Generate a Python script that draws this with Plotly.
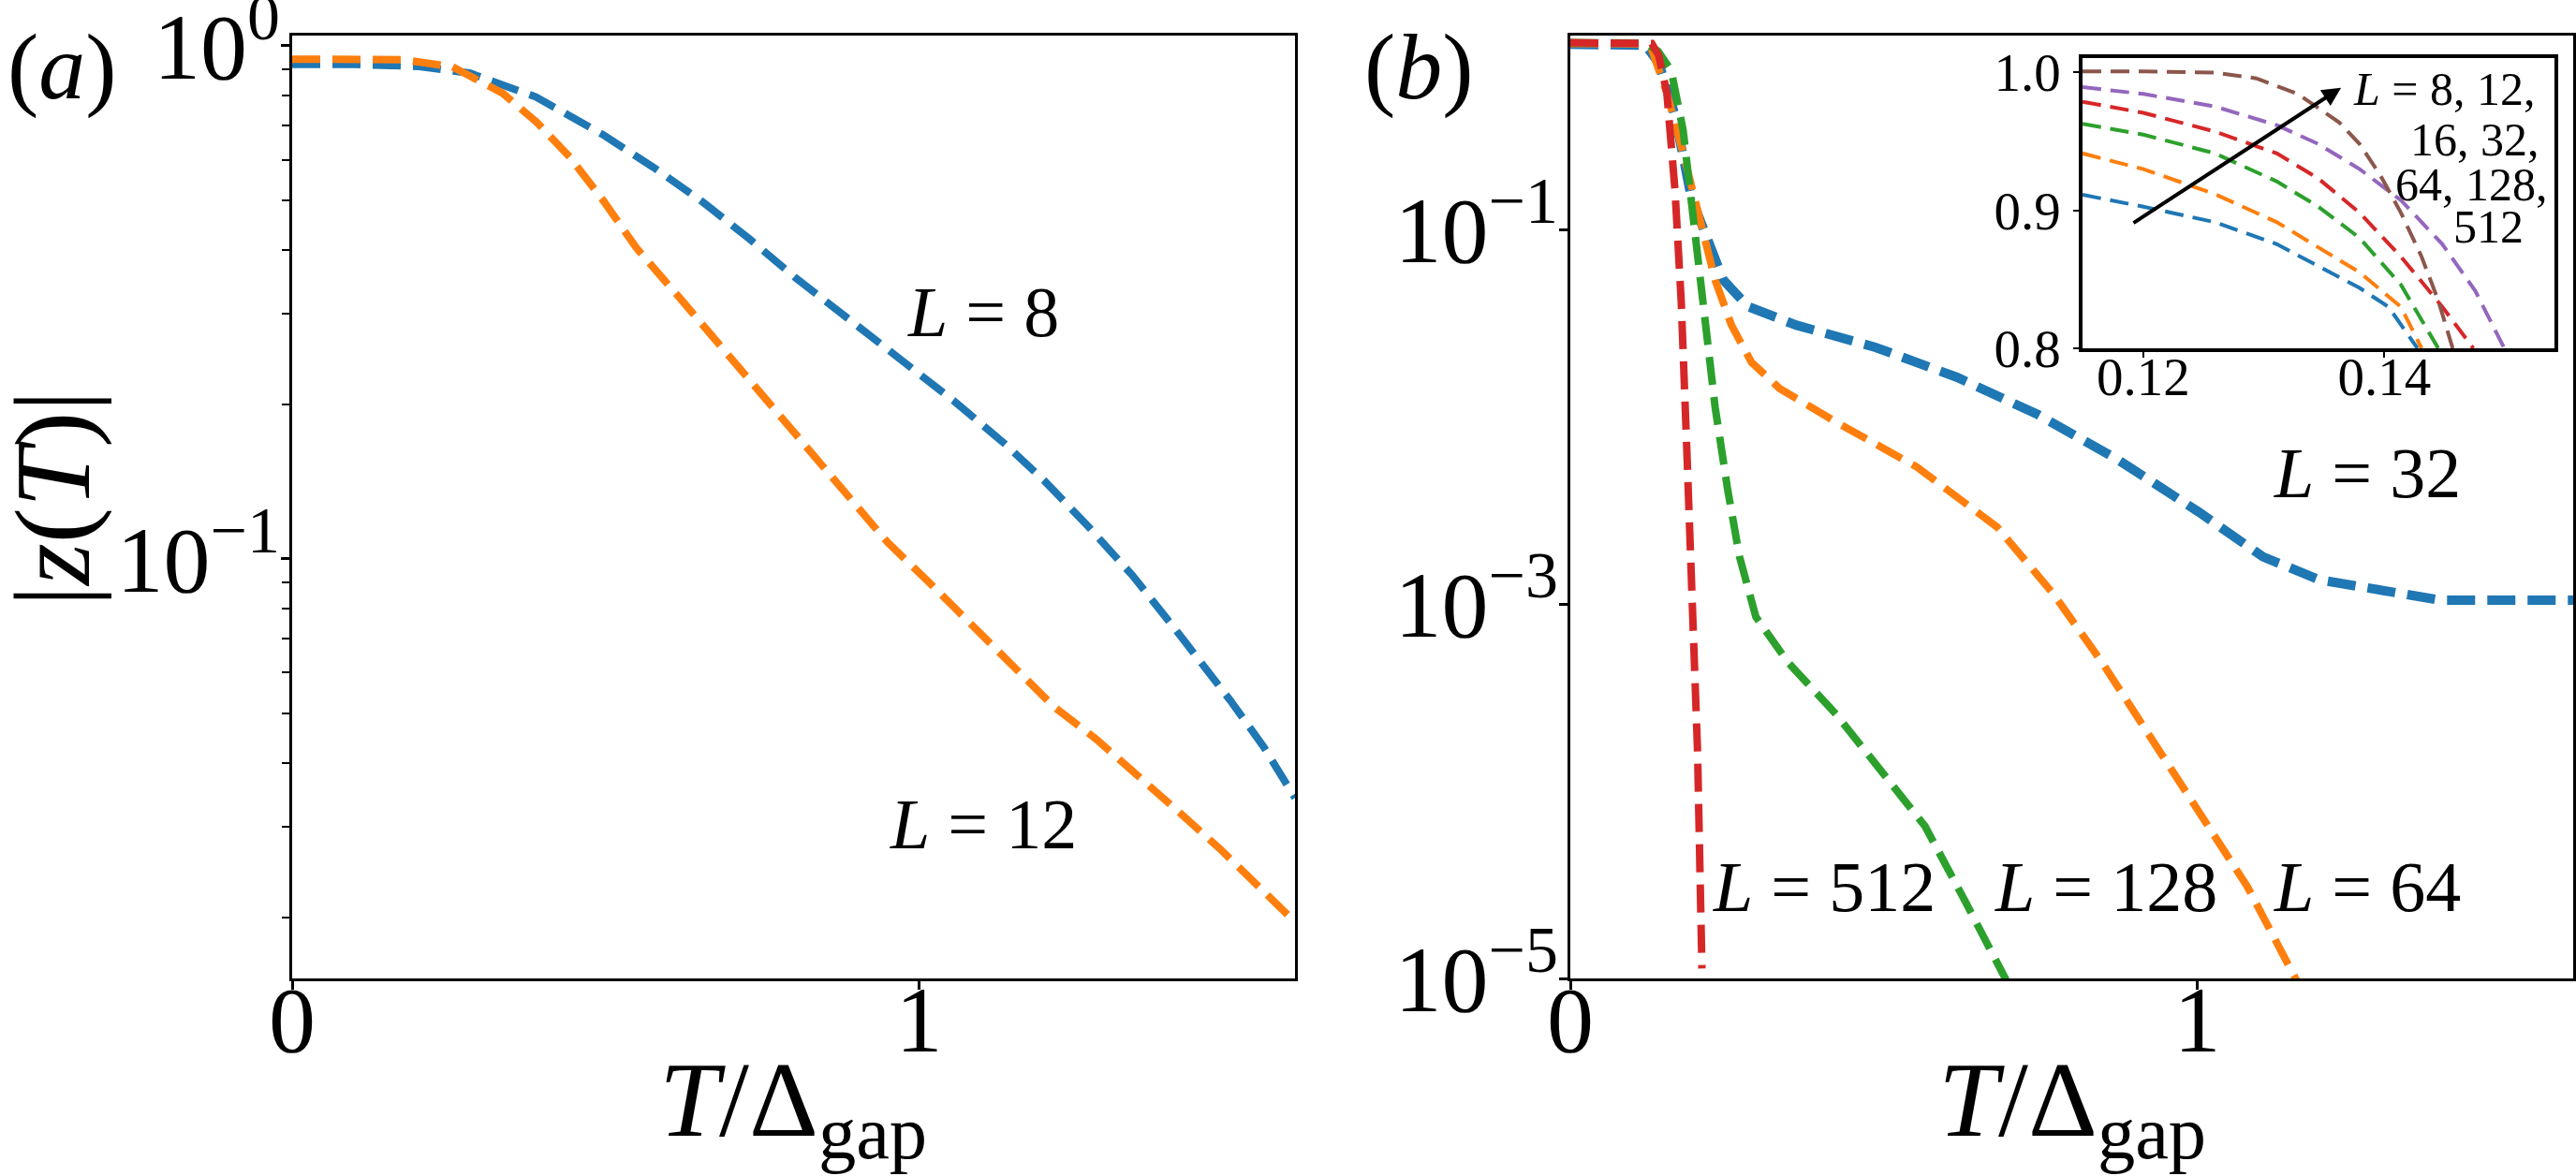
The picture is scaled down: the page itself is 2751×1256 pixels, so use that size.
import plotly.graph_objects as go

W, H = 2751, 1256
FONT = "Liberation Serif"

C_BLUE, C_ORANGE, C_GREEN, C_RED, C_PURPLE, C_BROWN = (
    "#1f77b4", "#ff7f0e", "#2ca02c", "#d62728", "#9467bd", "#8c564b")

# ---------------- panel (a) data ----------------
a_T_L8 = [0, 0.1, 0.2, 0.283, 0.389, 0.496, 0.576, 0.656, 0.73, 0.803, 0.89, 0.976,
          1.056, 1.136, 1.2, 1.269, 1.34, 1.403, 1.45, 1.496, 1.55, 1.6]
a_z_L8 = [0.92, 0.92, 0.912, 0.885, 0.795, 0.671, 0.58, 0.495, 0.42, 0.353, 0.292, 0.243,
          0.203, 0.168, 0.142, 0.116, 0.093, 0.0745, 0.063, 0.0531, 0.043, 0.0342]
a_T_L12 = [0, 0.1, 0.176, 0.256, 0.336, 0.39, 0.443, 0.496, 0.549, 0.616, 0.683, 0.75,
           0.816, 0.883, 0.949, 1.016, 1.083, 1.15, 1.216, 1.283, 1.349, 1.416, 1.483, 1.54, 1.6]
a_z_L12 = [0.942, 0.942, 0.94, 0.91, 0.808, 0.71, 0.607, 0.5, 0.404, 0.325, 0.26, 0.208,
           0.168, 0.134, 0.108, 0.09, 0.0745, 0.062, 0.0514, 0.0445, 0.0379, 0.032, 0.027, 0.023, 0.0196]

# ---------------- panel (b) data ----------------
b_T_L32 = [0, 0.10, 0.12, 0.141, 0.167, 0.193, 0.219, 0.244, 0.283, 0.36, 0.488, 0.617,
           0.746, 0.874, 1.003, 1.105, 1.195, 1.26, 1.388, 1.6]
b_z_L32 = [0.98, 0.978, 0.97, 0.78, 0.409, 0.149, 0.0855, 0.054, 0.039, 0.031, 0.0235, 0.0163,
           0.0103, 0.0059, 0.0031, 0.00179, 0.00135, 0.00124, 0.00105, 0.00105]
b_T_L64 = [0, 0.11, 0.129, 0.154, 0.18, 0.206, 0.231, 0.257, 0.289, 0.334, 0.424, 0.553,
           0.681, 0.771, 0.848, 0.925, 1.003, 1.08, 1.157, 1.17]
b_z_L64 = [0.99, 0.988, 0.938, 0.54, 0.258, 0.113, 0.054, 0.031, 0.0196, 0.0142, 0.0094, 0.0054,
           0.00258, 0.00113, 4.9e-4, 1.96e-4, 7.8e-5, 3.1e-5, 1.0e-5, 8.5e-6]
b_T_L128 = [0, 0.12, 0.14, 0.161, 0.18, 0.193, 0.212, 0.231, 0.251, 0.27, 0.296, 0.347,
            0.424, 0.501, 0.566, 0.63, 0.694, 0.70]
b_z_L128 = [1.0, 0.995, 0.9, 0.71, 0.34, 0.149, 0.041, 0.0113, 0.0041, 0.00179, 8.55e-4, 4.9e-4,
            2.58e-4, 1.24e-4, 6.5e-5, 2.58e-5, 1.0e-5, 8.5e-6]
b_T_L512 = [0, 0.12, 0.13, 0.141, 0.154, 0.167, 0.177, 0.186, 0.195, 0.203, 0.21]
b_z_L512 = [1.0, 1.0, 0.99, 0.855, 0.54, 0.163, 0.041, 6.5e-3, 1.03e-3, 1.63e-4, 1.13e-5]

# ---------------- inset data ----------------
i_T = {
    8:   [0.11496, 0.12, 0.12594, 0.13108, 0.13451, 0.13794, 0.14034, 0.14274],
    12:  [0.11496, 0.12, 0.12594, 0.13108, 0.13451, 0.13794, 0.14137, 0.14308],
    16:  [0.11496, 0.12, 0.12594, 0.13108, 0.13451, 0.13794, 0.14137, 0.14446],
    32:  [0.11496, 0.12, 0.12594, 0.13108, 0.13451, 0.13794, 0.14137, 0.14480, 0.14737],
    64:  [0.11496, 0.12, 0.12594, 0.13108, 0.13451, 0.13794, 0.14137, 0.14480, 0.14754, 0.14994],
    128: [0.11496, 0.12, 0.12594, 0.12937, 0.13280, 0.13623, 0.13794, 0.13966, 0.14137,
          0.14308, 0.14446, 0.14566],
}
i_z = {
    8:   [0.9113, 0.9027, 0.8914, 0.8755, 0.8596, 0.8438, 0.830, 0.80],
    12:  [0.9413, 0.9299, 0.9118, 0.8914, 0.8732, 0.8551, 0.830, 0.80],
    16:  [0.9628, 0.9549, 0.9413, 0.9209, 0.9027, 0.880, 0.846, 0.80],
    32:  [0.9787, 0.9707, 0.9571, 0.9413, 0.9231, 0.8982, 0.8664, 0.830, 0.80],
    64:  [0.9893, 0.9844, 0.9753, 0.9617, 0.9481, 0.9299, 0.9073, 0.8755, 0.8415, 0.80],
    128: [1.0007, 1.0007, 0.9998, 0.9957, 0.9844, 0.9639, 0.9481, 0.9254, 0.8982,
          0.8664, 0.8347, 0.80],
}
i_colors = {8: C_BLUE, 12: C_ORANGE, 16: C_GREEN, 32: C_RED, 64: C_PURPLE, 128: C_BROWN}

fig = go.Figure()


def add(x, y, color, width, dash, xa, ya):
    fig.add_trace(go.Scatter(x=x, y=y, mode="lines", xaxis=xa, yaxis=ya,
                             line=dict(color=color, width=width, dash=dash),
                             showlegend=False, hoverinfo="skip"))


DASH = "30px,13px"
add(a_T_L8, a_z_L8, C_BLUE, 8, DASH, "x", "y")
add(a_T_L12, a_z_L12, C_ORANGE, 8, DASH, "x", "y")

add(b_T_L32, b_z_L32, C_BLUE, 10, DASH, "x2", "y2")
add(b_T_L64, b_z_L64, C_ORANGE, 8, DASH, "x2", "y2")
add(b_T_L128, b_z_L128, C_GREEN, 8, DASH, "x2", "y2")
add(b_T_L512, b_z_L512, C_RED, 8, DASH, "x2", "y2")

for L in [8, 12, 16, 32, 64, 128]:
    add(i_T[L], i_z[L], i_colors[L], 4, "20px,10px", "x3", "y3")

TICKF = dict(family=FONT, size=100, color="black")
common = dict(showline=True, mirror=True, linecolor="black", linewidth=3,
              ticks="outside", ticklen=9, tickwidth=2.5, tickcolor="black",
              showgrid=False, zeroline=False, tickfont=TICKF,
              automargin=False, ticklabeloverflow="allow")

xa_dom = [312 / W, 1383 / W]
xb_dom = [1677 / W, 2748 / W]
y_dom = [1 - 1045 / H, 1 - 38 / H]

minor_a = [0.02, 0.03, 0.04, 0.05, 0.06, 0.07, 0.08, 0.09,
           0.2, 0.3, 0.4, 0.5, 0.6, 0.7, 0.8, 0.9]

inset_common = dict(showline=True, mirror=True, linecolor="black", linewidth=3.5,
                    ticks="outside", ticklen=6, tickwidth=2, tickcolor="black",
                    showgrid=False, zeroline=False, automargin=False,
                    ticklabeloverflow="allow",
                    tickfont=dict(family=FONT, size=57, color="black"))

fig.update_layout(
    width=W, height=H, autosize=False,
    margin=dict(l=0, r=0, t=0, b=0, pad=0, autoexpand=False),
    paper_bgcolor="white", plot_bgcolor="rgba(0,0,0,0)",
    xaxis=dict(domain=xa_dom, anchor="y", range=[0, 1.6], tickvals=[0, 1],
               ticktext=["0", "1"], ticklabelstandoff=-54, **common),
    yaxis=dict(domain=y_dom, anchor="x", type="log", range=[-1.818, 0.020],
               tickvals=[0.1, 1], ticktext=["10<sup>−1</sup>", "10<sup>0</sup>"],
               ticklabelstandoff=-19,
               minor=dict(tickmode="array", tickvals=minor_a, ticks="outside",
                          ticklen=8, tickwidth=2, tickcolor="black", showgrid=False),
               **common),
    xaxis2=dict(domain=xb_dom, anchor="y2", range=[0, 1.6], tickvals=[0, 1],
                ticktext=["0", "1"], ticklabelstandoff=-54, **common),
    yaxis2=dict(domain=y_dom, anchor="x2", type="log", range=[-5, 0.038],
                tickvals=[1e-5, 1e-3, 1e-1],
                ticktext=["10<sup>−5</sup>", "10<sup>−3</sup>", "10<sup>−1</sup>"],
                ticklabelstandoff=-19, **common),
    xaxis3=dict(domain=[2224 / W, 2728 / W], anchor="y3", range=[0.11496, 0.1541],
                tickvals=[0.12, 0.14], ticktext=["0.12", "0.14"],
                ticklabelstandoff=-28, **inset_common),
    yaxis3=dict(domain=[1 - 372 / H, 1 - 62 / H], anchor="x3", range=[0.8, 1.0104],
                tickvals=[0.8, 0.9, 1.0], ticktext=["0.8", "0.9", "1.0"],
                ticklabelstandoff=2, **inset_common),
)

# inset white background
fig.add_shape(type="rect", xref="x3 domain", yref="y3 domain", x0=0, x1=1, y0=0, y1=1,
              fillcolor="white", line=dict(width=0), layer="below")

ann = []
LAB = dict(family=FONT, size=76, color="black")
# panel a labels (log axis: y in log10 units)
ann.append(dict(x=1.103, y=-0.518, xref="x", yref="y", text="<i>L</i> = 8",
                showarrow=False, font=LAB))
ann.append(dict(x=1.103, y=-1.517, xref="x", yref="y", text="<i>L</i> = 12",
                showarrow=False, font=LAB))
# panel b labels
ann.append(dict(x=1.272, y=-2.3, xref="x2", yref="y2", text="<i>L</i> = 32",
                showarrow=False, font=LAB))
ann.append(dict(x=0.405, y=-4.508, xref="x2", yref="y2", text="<i>L</i> = 512",
                showarrow=False, font=LAB))
ann.append(dict(x=0.855, y=-4.508, xref="x2", yref="y2", text="<i>L</i> = 128",
                showarrow=False, font=LAB))
ann.append(dict(x=1.272, y=-4.508, xref="x2", yref="y2", text="<i>L</i> = 64",
                showarrow=False, font=LAB))

# inset text lines and arrow
INS = dict(family=FONT, size=50, color="black")
for txt, xr, yy in [("<i>L</i> = 8, 12,", 0.1527, 0.9878), ("16, 32,", 0.1530, 0.9515),
                    ("64, 128,", 0.1537, 0.9186), ("512", 0.1517, 0.888)]:
    ann.append(dict(x=xr, y=yy, xref="x3", yref="y3", text=txt, showarrow=False,
                    xanchor="right", yanchor="middle", font=INS))
ann.append(dict(x=0.1364, y=0.9889, ax=0.11907, ay=0.8902, xref="x3", yref="y3",
                axref="x3", ayref="y3", text="", showarrow=True, arrowhead=2,
                arrowsize=1, arrowwidth=4, arrowcolor="black"))

# panel letters
BIG = dict(family=FONT, size=100, color="black")
ann.append(dict(x=66 / W, y=1 - 72 / H, xref="paper", yref="paper", text="(<i>a</i>)",
                xanchor="center", yanchor="middle", showarrow=False, font=BIG))
ann.append(dict(x=1515 / W, y=1 - 72 / H, xref="paper", yref="paper", text="(<i>b</i>)",
                xanchor="center", yanchor="middle", showarrow=False, font=BIG))
# axis titles
TIT = dict(family=FONT, size=115, color="black")
ann.append(dict(x=57 / W, y=1 - 533 / H, xref="paper", yref="paper",
                text="|<i>z</i>(<i>T</i>)|", textangle=-90, xanchor="center",
                yanchor="middle", showarrow=False, font=TIT))
for cx in [(312 + 1383) / 2, (1677 + 2748) / 2]:
    ann.append(dict(x=cx / W, y=0.0, xref="paper", yref="paper",
                    text="<i>T</i>/Δ<sub>gap</sub>", xanchor="center", yanchor="bottom",
                    showarrow=False, font=TIT))

fig.update_layout(annotations=ann)
fig.write_html("out.html")
